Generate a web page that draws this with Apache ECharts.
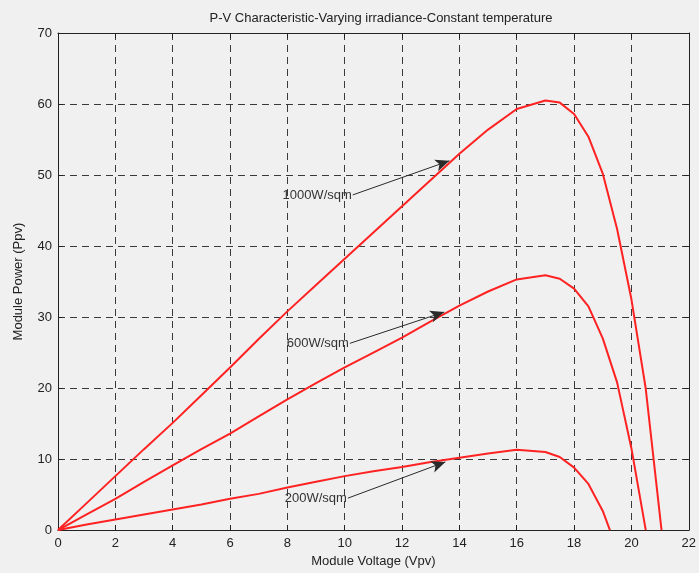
<!DOCTYPE html>
<html>
<head>
<meta charset="utf-8">
<script src="https://cdn.jsdelivr.net/npm/echarts@6/dist/echarts.min.js"></script>
<style>
  html, body { margin: 0; padding: 0; background: #f0f0f0; }
  #chart { width: 699px; height: 573px; }
</style>
</head>
<body>
<div id="chart"></div>
<script>
// voltage (Vpv), power (Ppv) pairs
const p1000 = [[0, 0], [1, 3.8], [2, 7.6], [3, 11.4], [4, 15.1], [5, 19.0], [6, 22.9], [7, 26.9], [8, 30.8], [9, 34.5], [10, 38.2], [11, 41.9], [12, 45.6], [13, 49.3], [14, 53.0], [15, 56.4], [16, 59.3], [17, 60.5], [17.5, 60.2], [18, 58.6], [18.5, 55.4], [19, 50.2], [19.5, 42.4], [20, 32.5], [20.5, 19.9], [21.05, 0]]
const p600 = [[0, 0], [1, 2.2], [2, 4.4], [3, 6.8], [4, 9.1], [5, 11.4], [6, 13.6], [7, 16.0], [8, 18.4], [9, 20.7], [10, 22.9], [11, 25.0], [12, 27.1], [13, 29.4], [14, 31.6], [15, 33.6], [16, 35.3], [17, 35.9], [17.5, 35.4], [18, 34.0], [18.5, 31.5], [19, 27.0], [19.5, 20.8], [20, 11.5], [20.5, 0]]
const p200 = [[0, 0], [1, 0.8], [2, 1.5], [3, 2.2], [4, 2.9], [5, 3.6], [6, 4.4], [7, 5.1], [8, 6.0], [9, 6.8], [10, 7.6], [11, 8.3], [12, 8.9], [13, 9.6], [14, 10.2], [15, 10.8], [16, 11.3], [17, 11.0], [17.5, 10.3], [18, 8.8], [18.5, 6.5], [19, 2.7], [19.25, 0]]

// annotation arrows: label, tail [V, P], head [V, P]
const notes = [
  ['1000W/sqm', [10.28, 47.2], [13.65, 52.0]],
  ['600W/sqm', [10.18, 26.3], [13.47, 30.7]],
  ['200W/sqm', [10.11, 4.5], [13.51, 9.6]]
]

const xTicks = { min: 0, max: 22, interval: 2 }
const yTicks = { min: 0, max: 70, interval: 10 }

const chart = echarts.init(document.getElementById('chart'))
const font = '"Liberation Sans", Arial, sans-serif'
const axisLine = { show: true, onZero: false, lineStyle: { color: '#222', width: 1 } }
const tick = { show: true, inside: true, length: 5, lineStyle: { color: '#222' } }
const grid = { show: true, lineStyle: { color: '#3a3a3a', type: [7, 5], width: 1 } }

function curve(name, data) {
  return {
    name: name,
    type: 'line',
    data: data,
    symbol: 'none',
    smooth: false,
    lineStyle: { color: '#ff2222', width: 2 },
    xAxisIndex: 0,
    yAxisIndex: 0
  }
}

const series = [curve('1000', p1000), curve('600', p600), curve('200', p200)]
series[0].markLine = {
  silent: true,
  animation: false,
  symbol: ['none', 'arrow'],
  symbolSize: [9, 14],
  lineStyle: { color: '#2a2a2a', width: 1, type: 'solid' },
  label: {
    show: true,
    position: 'start',
    distance: 1,
    formatter: '{b}',
    color: '#333',
    fontSize: 13,
    fontFamily: font
  },
  data: notes.map(n => [{ name: n[0], coord: n[1] }, { coord: n[2] }])
}

const option = {
  backgroundColor: '#f0f0f0',
  animation: false,
  title: {
    text: 'P-V Characteristic-Varying irradiance-Constant temperature',
    left: 376,
    textAlign: 'center',
    top: 7,
    textStyle: { fontSize: 13, fontWeight: 'normal', color: '#222', fontFamily: font }
  },
  grid: { left: 58, right: 5, top: 33, bottom: 41 },
  xAxis: [
    {
      type: 'value',
      ...xTicks,
      name: 'Module Voltage (Vpv)',
      nameLocation: 'middle',
      nameGap: 24,
      nameTextStyle: { fontSize: 13, color: '#222', fontFamily: font },
      axisLine: axisLine,
      axisTick: tick,
      splitLine: grid,
      axisLabel: { fontSize: 13, color: '#222', margin: 7, fontFamily: font }
    },
    {
      type: 'value',
      ...xTicks,
      position: 'top',
      axisLine: axisLine,
      axisTick: tick,
      splitLine: { show: false },
      axisLabel: { show: false }
    }
  ],
  yAxis: [
    {
      type: 'value',
      ...yTicks,
      name: 'Module Power (Ppv)',
      nameLocation: 'middle',
      nameGap: 33,
      nameTextStyle: { fontSize: 13, color: '#222', fontFamily: font },
      axisLine: axisLine,
      axisTick: tick,
      splitLine: grid,
      axisLabel: { fontSize: 13, color: '#222', margin: 6, fontFamily: font }
    },
    {
      type: 'value',
      ...yTicks,
      position: 'right',
      axisLine: axisLine,
      axisTick: tick,
      splitLine: { show: false },
      axisLabel: { show: false }
    }
  ],
  series: series
}
chart.setOption(option)
</script>
</body>
</html>
